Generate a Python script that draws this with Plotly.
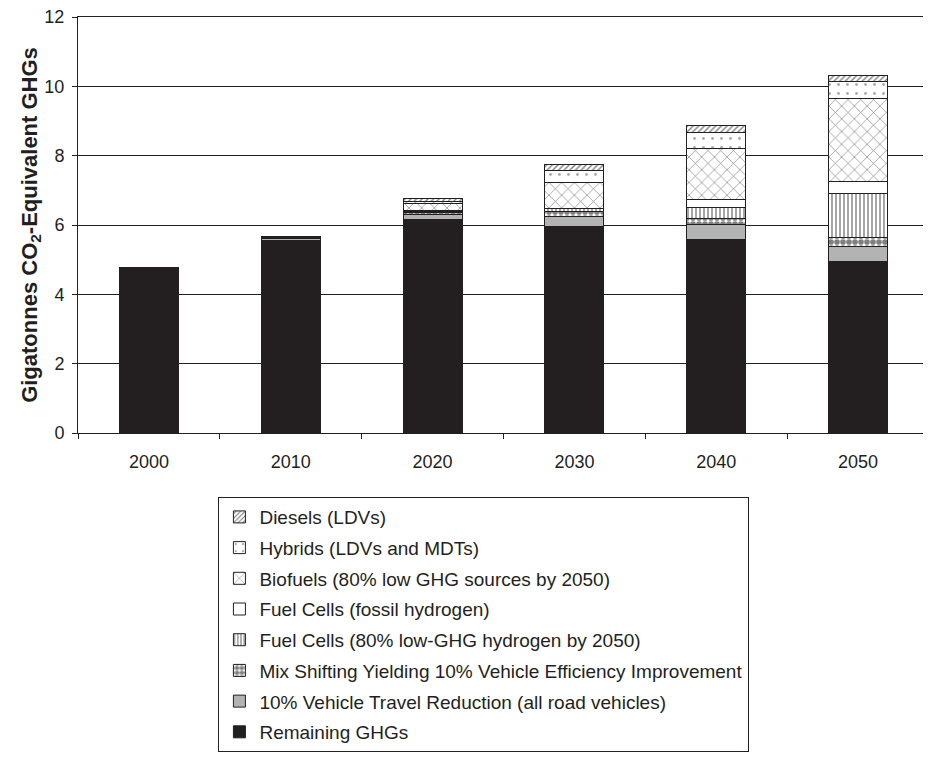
import plotly.graph_objects as go

years = ["2000", "2010", "2020", "2030", "2040", "2050"]

# stack order bottom -> top
remaining = [4.76, 5.55, 6.15, 5.95, 5.57, 4.96]
travel_reduction = [0.0, 0.05, 0.15, 0.30, 0.44, 0.43]
mix_shifting = [0.0, 0.02, 0.07, 0.15, 0.17, 0.26]
fc_low_ghg = [0.0, 0.0, 0.02, 0.07, 0.33, 1.27]
fc_fossil = [0.0, 0.0, 0.02, 0.02, 0.24, 0.34]
biofuels = [0.0, 0.02, 0.20, 0.75, 1.47, 2.40]
hybrids = [0.0, 0.01, 0.08, 0.33, 0.45, 0.47]
diesels = [0.0, 0.01, 0.07, 0.17, 0.21, 0.19]

series = [
    ("Remaining GHGs", remaining, dict(color="#231f20")),
    ("10% Vehicle Travel Reduction (all road vehicles)", travel_reduction, dict(color="#b3b3b3")),
    ("Mix Shifting Yielding 10% Vehicle Efficiency Improvement", mix_shifting,
     dict(color="white", pattern=dict(shape=".", fgcolor="black", bgcolor="white", size=6, solidity=0.7))),
    ("Fuel Cells (80% low-GHG hydrogen by 2050)", fc_low_ghg,
     dict(color="white", pattern=dict(shape="|", fgcolor="black", bgcolor="white", size=4, solidity=0.35))),
    ("Fuel Cells (fossil hydrogen)", fc_fossil, dict(color="white")),
    ("Biofuels (80% low GHG sources by 2050)", biofuels,
     dict(color="white", pattern=dict(shape="x", fgcolor="black", bgcolor="white", size=9, solidity=0.14))),
    ("Hybrids (LDVs and MDTs)", hybrids,
     dict(color="white", pattern=dict(shape=".", fgcolor="#555555", bgcolor="white", size=9, solidity=0.08))),
    ("Diesels (LDVs)", diesels,
     dict(color="white", pattern=dict(shape="/", fgcolor="black", bgcolor="white", size=4, solidity=0.35))),
]

fig = go.Figure()
for i, (name, vals, marker) in enumerate(series):
    marker = dict(marker, line=dict(color="#231f20", width=1))
    fig.add_trace(go.Bar(x=years, y=vals, name=name, marker=marker,
                         legendgroup=str(i), legendrank=len(series) - i))

# the page body adds an 8px offset, margins below account for it
fig.update_layout(
    width=931,
    height=771,
    barmode="stack",
    bargap=0.585,
    plot_bgcolor="white",
    paper_bgcolor="white",
    font=dict(family="Liberation Sans, Arial, sans-serif", size=18, color="#231f20"),
    margin=dict(l=70, r=10, t=9, b=346),
    showlegend=True,
    legend=dict(
        traceorder="grouped",
        tracegroupgap=3,
        x=0.165,
        y=-0.154,
        xanchor="left",
        yanchor="top",
        bordercolor="#231f20",
        borderwidth=1,
        font=dict(size=19),
        itemwidth=30,
    ),
)

fig.update_yaxes(
    range=[0, 12],
    dtick=2,
    automargin=False,
    ticklabeloverflow="allow",
    showgrid=True,
    gridcolor="#231f20",
    gridwidth=1,
    showline=True,
    linecolor="#231f20",
    ticks="outside",
    ticklen=5,
    tickcolor="#231f20",
    ticklabelstandoff=4,
    zeroline=False,
    title=dict(text="<b>Gigatonnes CO<sub>2</sub>-Equivalent GHGs</b>", font=dict(size=22), standoff=0),
)
fig.update_xaxes(
    automargin=False,
    showline=True,
    mirror=True,
    linecolor="#231f20",
    ticks="outside",
    ticklen=5,
    tickcolor="#231f20",
    tickson="boundaries",
    ticklabelstandoff=12,
)

fig.write_html("out.html")
